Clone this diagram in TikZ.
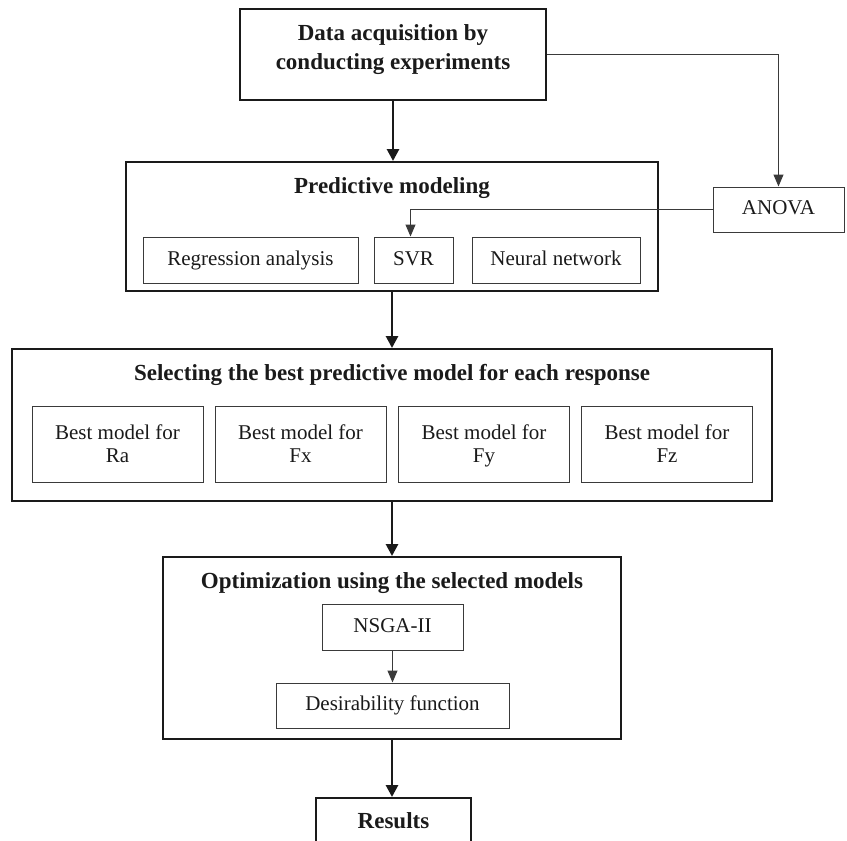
\documentclass[tikz,border=0pt]{standalone}
\usepackage{fontspec}
\setmainfont{Liberation Serif}
\usetikzlibrary{arrows.meta}
\definecolor{ink}{HTML}{1A1A1A}
\definecolor{thin}{HTML}{3A3A3A}
\begin{document}
\begin{tikzpicture}[x=1pt,y=-1pt,
 bigbox/.style={draw=ink,line width=2pt,inner sep=0pt},
 smallbox/.style={draw=thin,line width=1pt,inner sep=0pt,text=ink,font=\fontsize{21}{23}\selectfont,text height=14pt,text depth=4pt},
 twobox/.style={draw=thin,line width=1pt,inner sep=0pt,text=ink,font=\fontsize{21}{23}\selectfont,align=center},
 titletext/.style={text=ink,inner sep=0pt,font=\bfseries\fontsize{23}{28.5}\selectfont},
 bigarrow/.style={draw=ink,line width=2.8pt,-{Triangle[width=12pt,length=12pt]}},
 thinarrow/.style={draw=thin,line width=1pt,-{Triangle[width=10pt,length=12pt]}},
]
\useasboundingbox (0,0) rectangle (847,841);
\fill[white] (0,0) rectangle (847,841);

% top box
\node[bigbox,minimum width=306pt,minimum height=91pt] (top) at (393,54.5) {};
\node[titletext,align=center] (topT) at (393,49.5) {Data acquisition by\\conducting experiments};

% ANOVA
\node[smallbox,minimum width=131pt,minimum height=45pt] (anova) at (778.5,209.5) {ANOVA};

% predictive modeling
\node[bigbox,minimum width=532pt,minimum height=129pt] (pred) at (392,226.5) {};
\node[titletext,anchor=base] (predT) at (392,193) {Predictive modeling};
\node[smallbox,minimum width=215pt,minimum height=46pt] (reg) at (250.5,260) {Regression analysis};
\node[smallbox,minimum width=79pt,minimum height=46pt] (svr) at (413.5,260) {SVR};
\node[smallbox,minimum width=168pt,minimum height=46pt] (nn) at (556,260) {Neural network};

% selecting
\node[bigbox,minimum width=760pt,minimum height=152pt] (sel) at (392,425) {};
\node[titletext,anchor=base] (selT) at (392,380) {Selecting the best predictive model for each response};
\node[twobox,minimum width=171pt,minimum height=76pt] (ra) at (117.5,444) {Best model for\\Ra};
\node[twobox,minimum width=171pt,minimum height=76pt] (fx) at (300.5,444) {Best model for\\Fx};
\node[twobox,minimum width=171pt,minimum height=76pt] (fy) at (484,444) {Best model for\\\raisebox{0pt}[\height][0pt]{Fy}};
\node[twobox,minimum width=171pt,minimum height=76pt] (fz) at (667,444) {Best model for\\Fz};

% optimization
\node[bigbox,minimum width=458pt,minimum height=182pt] (opt) at (392,648) {};
\node[titletext,anchor=base] (optT) at (392,588) {Optimization using the selected models};
\node[smallbox,minimum width=141pt,minimum height=46pt] (nsga) at (392.5,627) {NSGA-II};
\node[smallbox,minimum width=233pt,minimum height=45pt] (des) at (392.5,705.5) {Desirability function};

% results
\node[bigbox,titletext,inner sep=0pt,minimum width=155pt,minimum height=50pt,text height=15pt,text depth=5pt] (res) at (393.5,823) {Results};

% connectors
\draw[bigarrow] (top.south) -- (top.south |- pred.north);
\draw[bigarrow] (pred.south) -- (pred.south |- sel.north);
\draw[bigarrow] (sel.south) -- (sel.south |- opt.north);
\draw[bigarrow] (opt.south) -- (opt.south |- res.north);
\draw[thinarrow] (top.east) -| (anova.north);
\draw[thinarrow] (anova.west) -| ([xshift=-3pt]svr.north);
\draw[thinarrow] (nsga.south) -- (des.north);
\end{tikzpicture}
\end{document}
